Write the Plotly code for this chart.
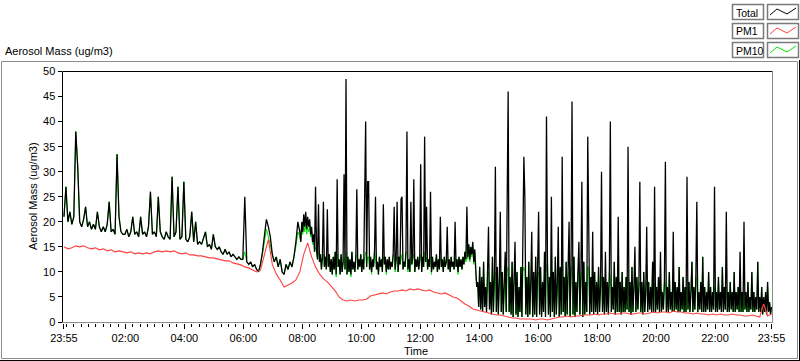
import plotly.graph_objects as go

W, H = 800, 361

# ---------------- data ----------------
# Times are minutes after 23:55.
# Part A: one sample every 4 minutes, t = 0 .. 480
STEP_A = 4
# Part B: one sample every 2 minutes, t = 482 .. 840
START_B, STEP_B = 482, 2
# Part C: one sample every 2 minutes, t = 842 .. 1440
START_C, STEP_C = 842, 2
# PM1: one sample every 8 minutes, t = 0 .. 1440
STEP_PM1 = 8

total_a = [
    21, 27, 20, 22, 19.5, 21, 38, 31, 20, 19,
    20.5, 23, 19, 20, 18.5, 19.5, 18.5, 22, 19, 18,
    19, 18, 19.5, 24, 18, 18.5, 17.5, 33.5, 21, 18,
    17.5, 17.5, 18.5, 17, 18, 21, 17.5, 18, 17, 21,
    17.5, 18, 17, 19, 26, 17.5, 18, 17, 25, 18,
    17, 16.5, 18, 17, 16.5, 29, 17, 18, 27, 16.5,
    17, 28, 16.5, 16, 17, 22, 16, 20, 15.5, 16,
    15.5, 17, 18, 15, 15.5, 14.5, 17.5, 15, 14.5, 15,
    14, 13.5, 14.5, 13.5, 14, 13, 13.5, 13, 12.5, 13,
    12.5, 12.5, 25, 12, 11.5, 12, 11, 11.5, 10.5, 10,
    11.5, 14, 18, 20.5, 19, 17, 13.5, 12, 13, 11,
    12.5, 10, 9.5, 11.5, 10.5, 12, 11, 13, 16, 20,
    18,
]

total_b = [
    16, 20, 18, 21.5, 19, 22, 18.5, 21, 19, 20.5, 17.5, 19, 16, 17.5, 14, 27, 14.5, 12.5, 23.5, 12, 13.5, 10.5, 13, 24, 11, 13, 10.5, 22.5, 11, 13.5,
    10, 12.5, 9.5, 13, 10.5, 14, 9.5, 28.5, 11, 12.5, 9.5, 13.5, 10, 12, 29.5, 10.5, 48.5, 9.5, 13, 10, 12.5, 9.5, 14, 10.5, 12, 10, 13, 26.5, 10.5, 12.5,
    11, 13.5, 10, 12.5, 10.5, 25.5, 40, 11, 28, 28, 10.5, 13, 10, 12.5, 11, 14, 25, 10.5, 12, 9.5, 13, 11, 12.5, 10, 23.5, 11.5, 13, 10, 12.5, 10.5,
    13, 10.5, 12, 11, 13.5, 23, 10.5, 12.5, 24, 10, 13, 11.5, 24.5, 25, 10.5, 12, 11, 14, 38, 10.5, 12.5, 10, 24, 11.5, 13, 28.5, 10, 12.5, 11, 13,
    10.5, 12.5, 31.5, 10, 13, 11, 37, 12, 23, 10.5, 12.5, 11, 26, 10, 13, 10.5, 12, 11, 13.5, 10, 12.5, 10.5, 21, 11, 12.5, 10, 13, 11, 12, 19,
    10.5, 12.5, 10, 13, 11, 12, 10.5, 20, 11, 12.5, 10, 13, 11, 12.5, 10.5, 13, 11.5, 14, 12.5, 23, 13, 15.5, 12.5, 15, 13.5, 16, 12, 14.5, 10, 7,
]

total_c = [
    8, 3, 11, 2.5, 9, 2, 12, 3, 7, 2, 10, 19, 2.5, 8, 1.5, 13, 2, 9, 31, 2, 11, 1.5, 8, 22, 2, 10, 1.5, 7, 14, 2,
    24, 46, 2, 9, 1.5, 12, 1, 8, 16, 1.5, 10, 1, 7, 2, 11, 1, 20, 33, 25, 1.5, 9, 1, 12, 1.5, 8, 18, 1, 10, 1.5, 13,
    1, 9, 22, 1.5, 11, 1, 8, 2, 14, 1, 41, 12, 1.5, 9, 1, 25, 2, 10, 1, 13, 1.5, 8, 19, 1, 11, 1.5, 33, 2, 9, 1,
    12, 1.5, 9, 20, 1, 11, 44, 1.5, 13, 1, 8, 2, 10, 16, 1.5, 9, 28, 1, 12, 1.5, 8, 2, 37, 11, 1.5, 9, 2, 18, 1.5, 10,
    2, 8, 1.5, 11, 2, 7, 30, 2, 9, 1.5, 14, 2, 8, 1.5, 10, 40, 2, 7, 2.5, 12, 1.5, 9, 2, 21, 2, 8, 1.5, 10, 2, 7,
    2, 9, 2.5, 35, 2, 8, 1.5, 11, 2, 7, 15, 2, 9, 2.5, 7, 28, 2, 8, 1.5, 10, 2, 6, 19, 2, 8, 2.5, 7, 2, 12, 2,
    27, 2, 7, 2.5, 9, 2, 14, 2, 6, 2.5, 8, 32, 2, 7, 2, 10, 2.5, 6, 2, 18, 2, 8, 2.5, 7, 2, 11, 2, 6, 2.5, 9,
    2, 7, 2, 29, 2.5, 8, 2, 6, 12, 2, 7, 2.5, 9, 24, 2, 6, 2.5, 8, 2, 13, 2, 7, 2, 6, 2.5, 10, 2, 7, 2, 6,
    2.5, 27, 2, 6, 2, 9, 2.5, 6, 2, 11, 2, 7, 2.5, 22, 2, 6, 2, 8, 2.5, 6, 2, 10, 2, 6, 2.5, 7, 2, 14, 2, 6,
    2, 20, 2.5, 6, 2, 8, 2, 5, 2.5, 10, 2, 6, 2, 5, 2.5, 12, 2, 5, 2, 7, 1.5, 5, 2, 6, 1.5, 8, 2, 4, 1.5, 3,
]

pm10_a = [
    21, 27, 20, 22, 19.5, 21, 38, 31, 20, 19,
    20.5, 23, 19, 20, 18.5, 19.5, 18.5, 22, 19, 18,
    19, 18, 19.5, 24, 18, 18.5, 17.5, 33.5, 21, 18,
    17.5, 17.5, 18.5, 17, 18, 21, 17.5, 18, 17, 21,
    17.5, 18, 17, 19, 26, 17.5, 18, 17, 25, 18,
    17, 16.5, 18, 17, 16.5, 29, 17, 18, 27, 16.5,
    17, 28, 16.5, 16, 17, 22, 16, 20, 15.5, 16,
    15.5, 17, 18, 15, 15.5, 14.5, 17.5, 15, 14.5, 15,
    14, 13.5, 14.5, 13.5, 14, 13, 13.5, 13, 12.5, 13,
    12.5, 12.5, 14, 12, 11.5, 12, 11, 11.5, 10.5, 10,
    11.5, 13.5, 16, 18.5, 17, 15, 13.5, 12, 13, 11,
    12.5, 10, 9.5, 11.5, 10.5, 12, 11, 13, 15, 18,
    17,
]

pm10_b = [
    16, 19, 17.5, 20, 18, 19.5, 17.5, 19, 18, 19, 17, 18, 15.5, 17, 14, 15, 14, 12.5, 14, 12, 13.5, 10.5, 13, 13.5, 11, 13, 10.5, 13, 11, 13.5,
    10, 12.5, 9.5, 13, 10.5, 14, 9, 13.5, 11, 12.5, 9.5, 13.5, 10, 12, 13, 10.5, 14, 9.5, 13, 10, 12.5, 9, 14, 10.5, 12, 10, 13, 13.5, 10.5, 12.5,
    11, 13.5, 10, 12.5, 10.5, 13, 14, 11, 13, 13, 10.5, 13, 9.5, 12.5, 11, 14, 13, 10.5, 12, 9.5, 13, 11, 12.5, 10, 13, 11.5, 13, 9.5, 12.5, 10.5,
    13, 10.5, 12, 11, 13.5, 13, 10, 12.5, 13, 10, 13, 11.5, 13, 13.5, 10.5, 12, 11, 14, 14, 10, 12.5, 10, 13, 11.5, 13, 13.5, 10, 12.5, 11, 13,
    10.5, 12.5, 13.5, 10, 13, 11, 14, 12, 13, 10.5, 12.5, 11, 13, 9.5, 13, 10.5, 12, 11, 13.5, 10, 12.5, 10.5, 13, 11, 12.5, 10, 13, 11, 12, 13,
    10.5, 12.5, 10, 13, 11, 12, 10.5, 13, 11, 12.5, 9.5, 13, 11, 12.5, 10.5, 13, 11.5, 14, 12, 16, 12.5, 15, 12, 14.5, 13, 15, 11.5, 14, 9.5, 7,
]

pm10_c = [
    8, 3, 11, 2.5, 9, 2, 12, 3, 7, 2, 10, 10, 2.5, 8, 1.5, 13, 2, 9, 10, 2, 11, 1.5, 8, 10, 2, 10, 1.5, 7, 10, 2,
    10, 11, 2, 9, 1.5, 12, 1, 8, 10, 1.5, 10, 1, 7, 2, 11, 1, 10, 11, 10, 1.5, 9, 1, 12, 1.5, 8, 10, 1, 10, 1.5, 13,
    1, 9, 10, 1.5, 11, 1, 8, 2, 10, 1, 11, 12, 1.5, 9, 1, 10, 2, 10, 1, 13, 1.5, 8, 10, 1, 11, 1.5, 11, 2, 9, 1,
    12, 1.5, 9, 10, 1, 11, 11, 1.5, 13, 1, 8, 2, 10, 10, 1.5, 9, 10, 1, 12, 1.5, 8, 2, 11, 11, 1.5, 9, 2, 10, 1.5, 10,
    2, 8, 1.5, 11, 2, 7, 9, 2, 9, 1.5, 9, 2, 8, 1.5, 10, 9, 2, 7, 2.5, 12, 1.5, 9, 2, 9, 2, 8, 1.5, 10, 2, 7,
    2, 9, 2.5, 9, 2, 8, 1.5, 11, 2, 7, 8, 2, 9, 2.5, 7, 8, 2, 8, 1.5, 10, 2, 6, 8, 2, 8, 2.5, 7, 2, 12, 2,
    8, 2, 7, 2.5, 9, 2, 8, 2, 6, 2.5, 8, 8, 2, 7, 2, 10, 2.5, 6, 2, 8, 2, 8, 2.5, 7, 2, 11, 2, 6, 2.5, 9,
    2, 7, 2, 7, 2.5, 8, 2, 6, 12, 2, 7, 2.5, 9, 7, 2, 6, 2.5, 8, 2, 13, 2, 7, 2, 6, 2.5, 10, 2, 7, 2, 6,
    2.5, 7, 2, 6, 2, 9, 2.5, 6, 2, 11, 2, 7, 2.5, 7, 2, 6, 2, 8, 2.5, 6, 2, 10, 2, 6, 2.5, 7, 2, 7, 2, 6,
    2, 6, 2.5, 6, 2, 8, 2, 5, 2.5, 10, 2, 6, 2, 5, 2.5, 12, 2, 5, 2, 7, 1.5, 5, 2, 6, 1.5, 8, 2, 4, 1.5, 3,
]

pm1 = [
    15.0, 14.6, 14.8, 15.2, 15.0, 15.2, 14.8, 14.6, 14.8, 14.4,
    14.6, 14.2, 14.4, 14.0, 14.2, 14.0, 13.8, 14.0, 13.6, 13.8,
    13.6, 13.8, 13.6, 14.0, 14.2, 14.0, 14.2, 14.0, 14.2, 13.8,
    13.6, 13.8, 13.4, 13.4, 13.2, 13.2, 13.0, 12.8, 12.8, 12.6,
    12.4, 12.2, 12.2, 11.8, 11.6, 11.4, 11.0, 10.8, 10.4, 10.0,
    10.4, 13.5, 16.5, 11.5, 9.6, 8.4, 7.0, 7.4, 7.8, 8.4,
    10.0, 13.5, 15.8, 13.0, 11.0, 9.6, 8.6, 8.0, 7.2, 6.2,
    5.0, 4.4, 4.2, 4.4, 4.2, 4.4, 4.4, 4.6, 5.2, 5.4,
    5.6, 5.8, 5.6, 6.0, 6.2, 6.2, 6.4, 6.2, 6.6, 6.4,
    6.6, 6.4, 6.2, 6.4, 6.0, 5.8, 5.6, 5.8, 5.4, 5.0,
    4.8, 4.2, 3.6, 3.2, 2.6, 2.4, 2.2, 2.0, 1.8, 1.6,
    1.4, 1.4, 1.2, 1.0, 0.8, 0.8, 0.6, 0.6, 0.6, 0.6,
    0.4, 0.6, 0.6, 0.4, 0.6, 0.8, 1.0, 1.0, 1.2, 1.0,
    1.2, 1.2, 1.4, 1.4, 1.4, 1.6, 1.4, 1.6, 1.6, 1.8,
    1.6, 1.6, 1.8, 1.8, 1.6, 1.6, 1.8, 1.8, 1.6, 1.8,
    2.0, 1.8, 2.0, 2.0, 1.8, 2.2, 2.0, 2.0, 1.8, 1.8,
    1.6, 1.8, 1.6, 1.6, 1.4, 1.6, 1.4, 1.6, 1.4, 1.4,
    1.6, 1.4, 1.4, 1.2, 1.2, 1.4, 1.2, 1.0, 3.6, 1.2,
    1.6,
]

tick_minutes = [0, 125, 245, 365, 485, 605, 725, 845, 965, 1085, 1205, 1325, 1440]
tick_labels = ["23:55", "02:00", "04:00", "06:00", "08:00", "10:00", "12:00",
               "14:00", "16:00", "18:00", "20:00", "22:00", "23:55"]
y_ticks = [0, 5, 10, 15, 20, 25, 30, 35, 40, 45, 50]

series_names = ["Total", "PM1", "PM10"]
series_colors = {"Total": "#000000", "PM1": "#ff4040", "PM10": "#00e600"}

# sample times (minutes after 23:55)
t_a = [i * STEP_A for i in range(len(total_a))]
t_b = [START_B + k * STEP_B for k in range(len(total_b))]
t_c = [START_C + k * STEP_C for k in range(len(total_c))]
t_all = t_a + t_b + t_c
t_pm1 = [i * STEP_PM1 for i in range(len(pm1))]

FONT = "Liberation Sans"


def px(x):
    return x / W


def py(y):
    return 1 - y / H


fig = go.Figure()
fig.add_trace(go.Scatter(x=t_all, y=pm10_a + pm10_b + pm10_c, mode="lines", name="PM10",
                         line=dict(color=series_colors["PM10"], width=1)))
fig.add_trace(go.Scatter(x=t_all, y=total_a + total_b + total_c, mode="lines", name="Total",
                         line=dict(color=series_colors["Total"], width=1.3)))
fig.add_trace(go.Scatter(x=t_pm1, y=pm1, mode="lines", name="PM1",
                         line=dict(color=series_colors["PM1"], width=1.1)))

shapes = []


def line(x0, y0, x1, y1, color, width=1):
    shapes.append(dict(type="line", xref="paper", yref="paper",
                       x0=px(x0), y0=py(y0), x1=px(x1), y1=py(y1),
                       line=dict(color=color, width=width), layer="above"))


# outer frame
line(1.5, 61.5, 797.5, 61.5, "#8c8c8c")
line(1.5, 61.5, 1.5, 358.5, "#8c8c8c")
line(797.5, 61.5, 797.5, 358.5, "#8c8c8c")
line(1.5, 358.5, 797.5, 358.5, "#8c8c8c")
line(799.5, 60, 799.5, 361, "#000000")
line(0, 360.5, 800, 360.5, "#000000")

# plot area borders
line(62.5, 71.5, 772.5, 71.5, "#000000")
line(62.5, 71.5, 62.5, 322.5, "#000000")
line(772.5, 71.5, 772.5, 322.5, "#8c8c8c")
line(62.5, 322.5, 772.5, 322.5, "#8c8c8c")

# legend
annotations = []
row_tops = [4, 23, 42]
for name, top in zip(series_names, row_tops):
    shapes.append(dict(type="rect", xref="paper", yref="paper",
                       x0=px(732.5), x1=px(763.5), y0=py(top + 0.5), y1=py(top + 15.5),
                       line=dict(color="#7a7a7a", width=1.5), fillcolor="white"))
    shapes.append(dict(type="rect", xref="paper", yref="paper",
                       x0=px(767.5), x1=px(798.5), y0=py(top + 0.5), y1=py(top + 15.5),
                       line=dict(color="#7a7a7a", width=1.5), fillcolor="white"))
    pts = [(770, top + 11), (777, top + 5), (787, top + 10), (796, top + 4)]
    path = "M " + " L ".join(f"{px(a):.5f},{py(b):.5f}" for a, b in pts)
    shapes.append(dict(type="path", xref="paper", yref="paper", path=path,
                       line=dict(color=series_colors[name], width=1)))
    annotations.append(dict(text=name, x=px(733.5), y=py(top + 8.5), xref="paper", yref="paper",
                            xanchor="left", yanchor="middle", showarrow=False,
                            font=dict(family=FONT, size=10.5, color="black")))

annotations.append(dict(text="Aerosol Mass (ug/m3)", x=px(3), y=py(51), xref="paper", yref="paper",
                        xanchor="left", yanchor="middle", showarrow=False,
                        font=dict(family=FONT, size=11, color="black")))
annotations.append(dict(text="Aerosol Mass (ug/m3)", x=px(33), y=py(196), xref="paper", yref="paper",
                        xanchor="center", yanchor="middle", showarrow=False, textangle=-90,
                        font=dict(family=FONT, size=11, color="black")))
annotations.append(dict(text="Time", x=px(416), y=py(351), xref="paper", yref="paper",
                        xanchor="center", yanchor="middle", showarrow=False,
                        font=dict(family=FONT, size=11, color="black")))

fig.update_layout(
    width=W, height=H,
    margin=dict(l=0, r=0, t=0, b=0, pad=0, autoexpand=False),
    paper_bgcolor="white", plot_bgcolor="white",
    showlegend=False,
    shapes=shapes, annotations=annotations,
    xaxis=dict(domain=[62.5 / W, 772.5 / W], range=[-3, 1442], automargin=False,
               tickmode="array", tickvals=tick_minutes, ticktext=tick_labels,
               ticks="outside", ticklen=5, tickwidth=1, tickcolor="black",
               showgrid=False, zeroline=False, showline=False,
               tickfont=dict(family=FONT, size=11, color="black"),
               minor=dict(tickmode="linear", tick0=5, dtick=15, ticks="outside",
                          ticklen=3, tickwidth=1, tickcolor="black", showgrid=False)),
    yaxis=dict(domain=[1 - 322.5 / H, 1 - 71.5 / H], range=[-0.1, 50], automargin=False,
               tickmode="array", tickvals=y_ticks, ticktext=[str(v) for v in y_ticks],
               ticks="outside", ticklen=4, tickwidth=1, tickcolor="black",
               showgrid=False, zeroline=False, showline=False,
               tickfont=dict(family=FONT, size=11, color="black")),
)

fig.write_html(
    "out.html",
    config={"displayModeBar": False},
    post_script="document.body.style.margin='0';document.body.style.overflow='hidden';",
)
